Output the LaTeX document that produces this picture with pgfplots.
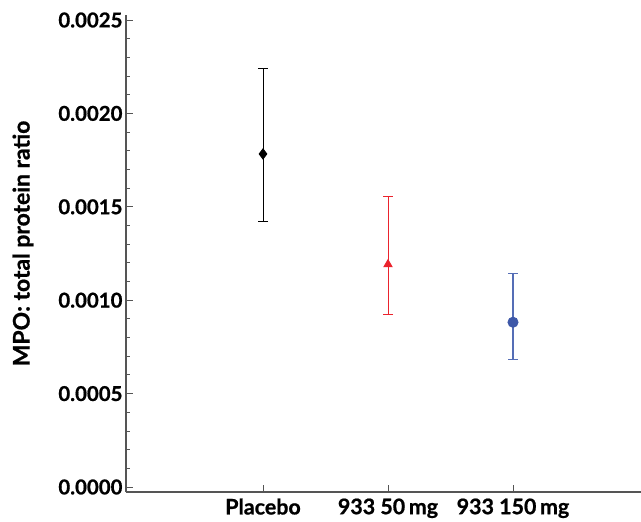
\documentclass[border=0pt]{standalone}
\usepackage{pgfplots}
\pgfplotsset{compat=1.18}
\usepackage{pgfplotstable}
\usepackage{fontspec}
\setmainfont{Lato}[BoldFeatures={FakeBold=0.8}]
\definecolor{axisgray}{RGB}{85,85,85}
\definecolor{mred}{RGB}{235,35,45}
\definecolor{mblue}{RGB}{62,88,168}
\definecolor{mbluebar}{RGB}{85,110,182}
\pgfplotstableread{
x y ep em
1 0.001783 0.000458 0.000364
}\placebo
\pgfplotstableread{
x y ep em
2 0.001192 0.000364 0.000268
}\lowdose
\pgfplotstableread{
x y ep em
3 0.000882 0.000260 0.000201
}\highdose
\begin{document}
\begin{tikzpicture}
\begin{axis}[
  scale only axis,
  width=515bp, height=477bp,
  xmin=-0.096, xmax=4.024,
  ymin=-0.0000268, ymax=0.0025268,
  axis lines=left,
  axis line style={-, color=axisgray, line width=1.2bp},
  tick align=inside,
  major tick length=7bp,
  minor tick length=4bp,
  tick style={color=axisgray, line width=0.9bp},
  xtick={1,2,3},
  xticklabels={Placebo, 933 50\,mg, 933 150\,mg},
  ytick={0,0.0005,0.001,0.0015,0.002,0.0025},
  minor y tick num=4,
  scaled y ticks=false,
  yticklabel style={/pgf/number format/.cd, fixed, fixed zerofill, precision=4, assume math mode=true},
  ticklabel style={font=\bfseries\fontsize{20.5}{22}\selectfont},
  xticklabel style={font=\bfseries\fontsize{21.5}{23}\selectfont, yshift=-3bp},
  ylabel={MPO: total protein ratio},
  ylabel style={font=\bfseries\fontsize{23}{26}\selectfont, at={(axis description cs:0,0.521)}, anchor=center, yshift=103bp},
  clip=false,
]
\addplot[color=black, line width=1bp, mark=diamond*, mark size=5bp, only marks,
  error bars/.cd, y dir=both, y explicit, error bar style={line width=1bp, color=black}, error mark options={rotate=90, mark size=5bp, line width=1bp, color=black}]
  table[x=x, y=y, y error plus=ep, y error minus=em] {\placebo};
\addplot[color=mred, line width=1bp, mark=triangle*, mark size=4.5bp, only marks,
  error bars/.cd, y dir=both, y explicit, error bar style={line width=1bp, color=mred}, error mark options={rotate=90, mark size=5bp, line width=1bp, color=mred}]
  table[x=x, y=y, y error plus=ep, y error minus=em] {\lowdose};
\addplot[color=mblue, line width=1bp, mark=*, mark size=5bp, only marks,
  error bars/.cd, y dir=both, y explicit, error bar style={line width=1.1bp, color=mbluebar}, error mark options={rotate=90, mark size=5bp, line width=1.1bp, color=mbluebar}]
  table[x=x, y=y, y error plus=ep, y error minus=em] {\highdose};
\end{axis}
\pgfresetboundingbox
\path ([shift={(-126bp,-30bp)}]current axis.south west) rectangle ([shift={(0bp,15bp)}]current axis.north east);
\end{tikzpicture}
\end{document}
